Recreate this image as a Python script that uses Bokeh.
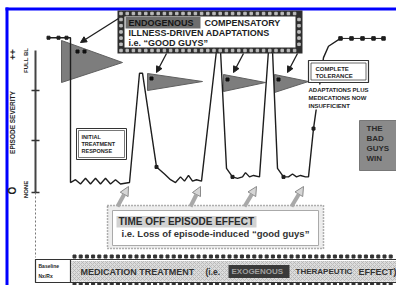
import numpy as np
from bokeh.plotting import figure
from bokeh.models import Range1d, Label, Arrow, NormalHead
from bokeh.embed import file_html
from bokeh.resources import INLINE

# ---------------- data: episode severity over time (severity 0 = none, 100 = full) -------------
time = [48, 70, 70, 75, 80, 85, 90, 95, 100, 105, 110, 115, 120, 129,
        139, 142, 156, 164, 170, 175, 180, 184, 188, 192, 196, 201,
        216, 220, 226, 232, 237, 242, 245, 249, 253, 259,
        268, 272, 277, 283, 288, 292, 296, 300, 305, 308,
        313, 323, 328, 340]
severity = [109, 109, 7, 9, 6, 10, 6, 10, 6, 10, 6, 9, 6, 7,
            84, 84, 18, 13, 9, 7, 11, 8, 12, 8, 9, 8,
            100, 100, 17, 11, 10, 11, 14, 11, 12, 11,
            100, 100, 17, 11, 11, 13, 11, 12, 11, 11,
            45, 95, 103, 108.5]
tail_time = [340, 351, 362, 373, 383]
tail_severity = [108.5, 108.5, 108.5, 108.5, 108.5]
start_time = [48, 58, 66]
start_severity = [109, 109, 109]

FONT = "Liberation Sans"
INK = "#1e1e1e"

W, H = 396, 285
p = figure(width=W, height=H, x_range=Range1d(0, W), y_range=Range1d(H, 0),
           output_backend="svg", toolbar_location=None, min_border=0)
p.axis.visible = False
p.grid.visible = False
p.outline_line_color = None
p.background_fill_color = "white"

# severity scale: 0 at the NONE tick, 100 at the top of the severity axis
Y_NONE, Y_FULL = 192, 50
k = (Y_NONE - Y_FULL) / 100.0
p.extra_y_ranges = {"sev": Range1d(start=(Y_NONE - H) / k, end=(Y_NONE - 0) / k)}


def lab(x, y, text, size, color=INK, style="bold", angle=0, align="center", bg=None):
    p.add_layout(Label(x=x, y=y, text=text, text_font=FONT, text_font_size=f"{size}px",
                       text_font_style=style, text_color=color, angle=angle,
                       text_align=align, text_baseline="middle",
                       background_fill_color=bg))


# blue frame
p.quad(left=5, right=W, top=7, bottom=10, fill_color="#0000ff", line_color=None)
p.quad(left=5, right=8, top=7, bottom=H, fill_color="#0000ff", line_color=None)

# severity axis
p.segment(x0=35, y0=Y_FULL, x1=35, y1=Y_NONE, line_color="#444", line_width=2)
p.segment(x0=[31, 31, 31], y0=[90, 140, Y_NONE], x1=[39, 39, 39], y1=[90, 140, Y_NONE],
          line_color="#333", line_width=1.5)
p.segment(x0=35, y0=Y_NONE, x1=35, y1=257, line_color="#777", line_width=1, line_dash="2 2")
lab(12, 54, "++", 9, angle=np.pi / 2)
lab(25, 60, "FULL BL", 6, angle=np.pi / 2)
lab(12, 122, "EPISODE SEVERITY", 6.5, angle=np.pi / 2)
lab(12, 190, "O", 10, angle=np.pi / 2)
lab(25, 189, "NONE", 6, angle=np.pi / 2)

# flags (compensatory adaptations)
flag_xs = [[61, 122, 61], [147, 202, 147], [223, 265, 223], [274, 308, 274]]
flag_ys = [[40, 62, 82], [73, 81, 90], [74, 82, 91], [74, 81, 92]]
p.patches(flag_xs, flag_ys, fill_color="#7d7d7d", line_color="#606060", line_width=1)
p.scatter([77, 84, 151, 227, 278], [51, 51, 78, 79, 79], marker="square", size=3,
          color="#111")

# severity curve
p.line(time, severity, y_range_name="sev", line_color=INK, line_width=1.4)
p.line(tail_time, tail_severity, y_range_name="sev", line_color=INK, line_width=1)
p.scatter(tail_time, tail_severity, y_range_name="sev", marker="square", size=3.5, color=INK)
p.scatter(start_time, start_severity, y_range_name="sev", marker="square", size=3, color=INK)
p.scatter([time[i] for i in (16, 29, 39, 46)], [severity[i] for i in (16, 29, 39, 46)],
          y_range_name="sev", marker="square", size=3, color=INK)

# top box: endogenous adaptations
p.quad(left=117, right=302, top=10, bottom=53, fill_color="#2e2e2e", line_color=None)
p.quad(left=124, right=295, top=16, bottom=47, fill_color="white", line_color=None)
dx = np.arange(120.5, 299, 6.2)
dy = np.arange(19, 50, 6.2)
p.scatter(np.concatenate([dx, dx, np.full(len(dy), 120.5), np.full(len(dy), 298.5)]),
          np.concatenate([np.full(len(dx), 13), np.full(len(dx), 50), dy, dy]),
          marker="square", size=2.5, color="#bdbdbd")
p.quad(left=125, right=200, top=16.5, bottom=28, fill_color="#6e6e6e", line_color=None)
lab(128, 22.5, "ENDOGENOUS", 9, color="#151515", align="left")
lab(204, 22.5, "COMPENSATORY", 9, align="left")
lab(128, 32.5, "ILLNESS-DRIVEN  ADAPTATIONS", 9, align="left")
lab(128, 42, "i.e. \u201cGOOD GUYS\u201d", 9, align="left")

head = dict(size=6, fill_color=INK, line_color=INK)
for (xs, ys, xe, ye) in [(118, 18, 80, 42), (166, 53, 156, 72), (243, 53, 233, 72),
                         (297, 53, 287, 72)]:
    p.add_layout(Arrow(end=NormalHead(**head), x_start=xs, y_start=ys, x_end=xe, y_end=ye,
                       line_color=INK, line_width=1.3))

# initial treatment response box
p.quad(left=76, right=126, top=128, bottom=159, fill_color="white", line_color="#333",
       line_width=1)
p.quad(left=78, right=124, top=130, bottom=157, fill_color=None, line_color="#555",
       line_width=0.8)
lab(81, 136, "INITIAL", 5.5, align="left")
lab(81, 143, "TREATMENT", 5.5, align="left")
lab(81, 150, "RESPONSE", 5.5, align="left")

# complete tolerance box
p.quad(left=308, right=368, top=60, bottom=82, fill_color="white", line_color="#333",
       line_width=1.2)
p.quad(left=310.5, right=365.5, top=62.5, bottom=79.5, fill_color=None, line_color="#444",
       line_width=0.8)
lab(315, 68.5, "COMPLETE", 6, align="left")
lab(315, 75.5, "TOLERANCE", 6, align="left")
p.quad(left=307, right=362, top=84, bottom=109, fill_color="white", line_color=None)
lab(308, 89, "ADAPTATIONS PLUS", 6, align="left")
lab(308, 97, "MEDICATIONS NOW", 6, align="left")
lab(308, 105, "INSUFFICIENT", 6, align="left")

# bad guys win
p.quad(left=359, right=398, top=120, bottom=170, fill_color="#8a8a8a", line_color="#777")
for yy, tt in zip([128, 138, 148, 158], ["THE", "BAD", "GUYS", "WIN"]):
    lab(366, yy, tt, 8, color="#2a2a2a", align="left")

# time off episode effect box
for (xs, ys, xe, ye) in [(117, 206, 128, 186), (190, 206, 200, 186), (244, 206, 256, 186),
                         (291, 206, 303, 186)]:
    p.add_layout(Arrow(end=NormalHead(size=9, fill_color="#d6d6d6", line_color="#8a8a8a"),
                       x_start=xs, y_start=ys, x_end=xe, y_end=ye,
                       line_color="#a8a8a8", line_width=4))
p.quad(left=107, right=323, top=205, bottom=248, fill_color="#ededed", line_color="#666",
       line_width=1.5, line_dash="1 2")
p.quad(left=112, right=318, top=210, bottom=245, fill_color="white", line_color="#aaa",
       line_width=1)
p.quad(left=116, right=256, top=215.5, bottom=227, fill_color="#d2d2d2", line_color=None)
lab(118, 221, "TIME  OFF  EPISODE  EFFECT", 10, color="#2a2a2a", align="left")
lab(121, 232.5, "i.e. Loss of episode-induced \u201cgood guys\u201d", 9.5, color="#333",
    align="left")

# medication treatment bar
bx = np.arange(74, W, 6.2)
p.scatter(np.concatenate([bx, bx]), np.concatenate([np.full(len(bx), 256), np.full(len(bx), 284)]),
          marker="square", size=3, color="#333")
p.quad(left=71, right=W, top=260.5, bottom=281, fill_color="#dcdcdc", line_color=None,
       hatch_pattern="x", hatch_color="#b4b4b4", hatch_scale=4, hatch_weight=0.8)
p.segment(x0=[35, 35], y0=[259, 282], x1=[W, W], y1=[259, 282], line_color="#333",
          line_width=1.2)
p.quad(left=35, right=70, top=259, bottom=282, fill_color="white", line_color="#333",
       line_width=1.2)
lab(38, 265.5, "Baseline", 5, align="left")
lab(38, 275, "Nx/Rx", 5, align="left")
lab(80, 271, "MEDICATION  TREATMENT", 9, color="#333", align="left")
lab(205, 271, "(i.e.", 8.5, color="#333", align="left")
p.quad(left=228, right=289, top=264.5, bottom=277.5, fill_color="#3a3a3a", line_color=None)
lab(231, 271, "EXOGENOUS", 8, color="#a0a0a0", align="left")
lab(295, 271, "THERAPEUTIC", 8, color="#333", align="left")
lab(358, 271, "EFFECT)", 9, color="#333", align="left")

open("out.html", "w").write(file_html(p, INLINE))
